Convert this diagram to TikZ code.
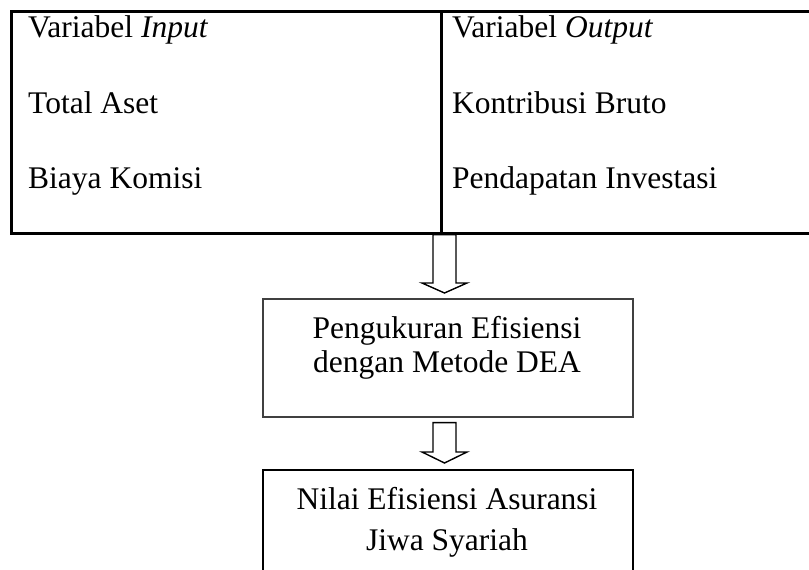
\documentclass[tikz,border=0pt]{standalone}
\usepackage{fontspec}
\setmainfont{Liberation Serif}
\usetikzlibrary{calc}
\tikzset{
  txt/.style={inner sep=0pt, font=\fontsize{31.5}{36}\selectfont},
  tline/.style={line width=2.6pt, black},
  stagebox/.style={draw, inner sep=0pt},
  blockarrow/.style={draw=black, line width=1.4pt, fill=white, line join=miter},
}
\begin{document}
\begin{tikzpicture}[x=1pt,y=-1pt]
\useasboundingbox (0,0) rectangle (809,570);
\clip (0,0) rectangle (809,570);
% table
\node[tline, draw, minimum width=430pt, minimum height=222pt, anchor=north west, inner sep=0pt] (inbox) at (10,10) {};
\node[tline, draw, minimum width=400pt, minimum height=222pt, anchor=north west, inner sep=0pt] (outbox) at (440,10) {};
\node[txt, anchor=base west] (vin) at (28,37) {Variabel \textit{Input}};
\node[txt, anchor=base west] (ta) at (28,113) {Total Aset};
\node[txt, anchor=base west] (bk) at (28,188) {Biaya Komisi};
\node[txt, anchor=base west] (vout) at (452,37) {Variabel \textit{Output}};
\node[txt, anchor=base west] (kb) at (452,113) {Kontribusi Bruto};
\node[txt, anchor=base west] (pi) at (452,188) {Pendapatan Investasi};
% box 1
\node[stagebox, draw=black!75, line width=1.6pt, minimum width=370pt, minimum height=118pt, anchor=north west] (dea) at (262,298) {};
\node[txt, anchor=base] (dea1) at (447,338) {Pengukuran Efisiensi};
\node[txt, anchor=base] (dea2) at (447,372) {dengan Metode DEA};
% box 2
\node[stagebox, draw=black, line width=2pt, minimum width=370pt, minimum height=140pt, anchor=north west] (nilai) at (262,469) {};
\node[txt, anchor=base] (nil1) at (447,509) {Nilai Efisiensi Asuransi};
\node[txt, anchor=base] (nil2) at (447,550) {Jiwa Syariah};
% arrows
\coordinate (a1s) at (inbox.south east -| 444.5,0);
\coordinate (a1e) at (dea.north -| 444.5,0);
\draw[blockarrow] ($(a1s)+(-11.5,0)$) -- ($(a1s)+(11.5,0)$) -- ($(a1e)+(11.5,-15)$) -- ($(a1e)+(22.5,-15)$) -- ($(a1e)+(0,-5)$) -- ($(a1e)+(-22.5,-15)$) -- ($(a1e)+(-11.5,-15)$) -- cycle;
\coordinate (a2s) at (dea.south -| 444.5,0);
\coordinate (a2e) at (nilai.north -| 444.5,0);
\draw[blockarrow] ($(a2s)+(-11.5,5)$) -- ($(a2s)+(11.5,5)$) -- ($(a2e)+(11.5,-17)$) -- ($(a2e)+(22.5,-17)$) -- ($(a2e)+(0,-6)$) -- ($(a2e)+(-22.5,-17)$) -- ($(a2e)+(-11.5,-17)$) -- cycle;
\end{tikzpicture}
\end{document}
